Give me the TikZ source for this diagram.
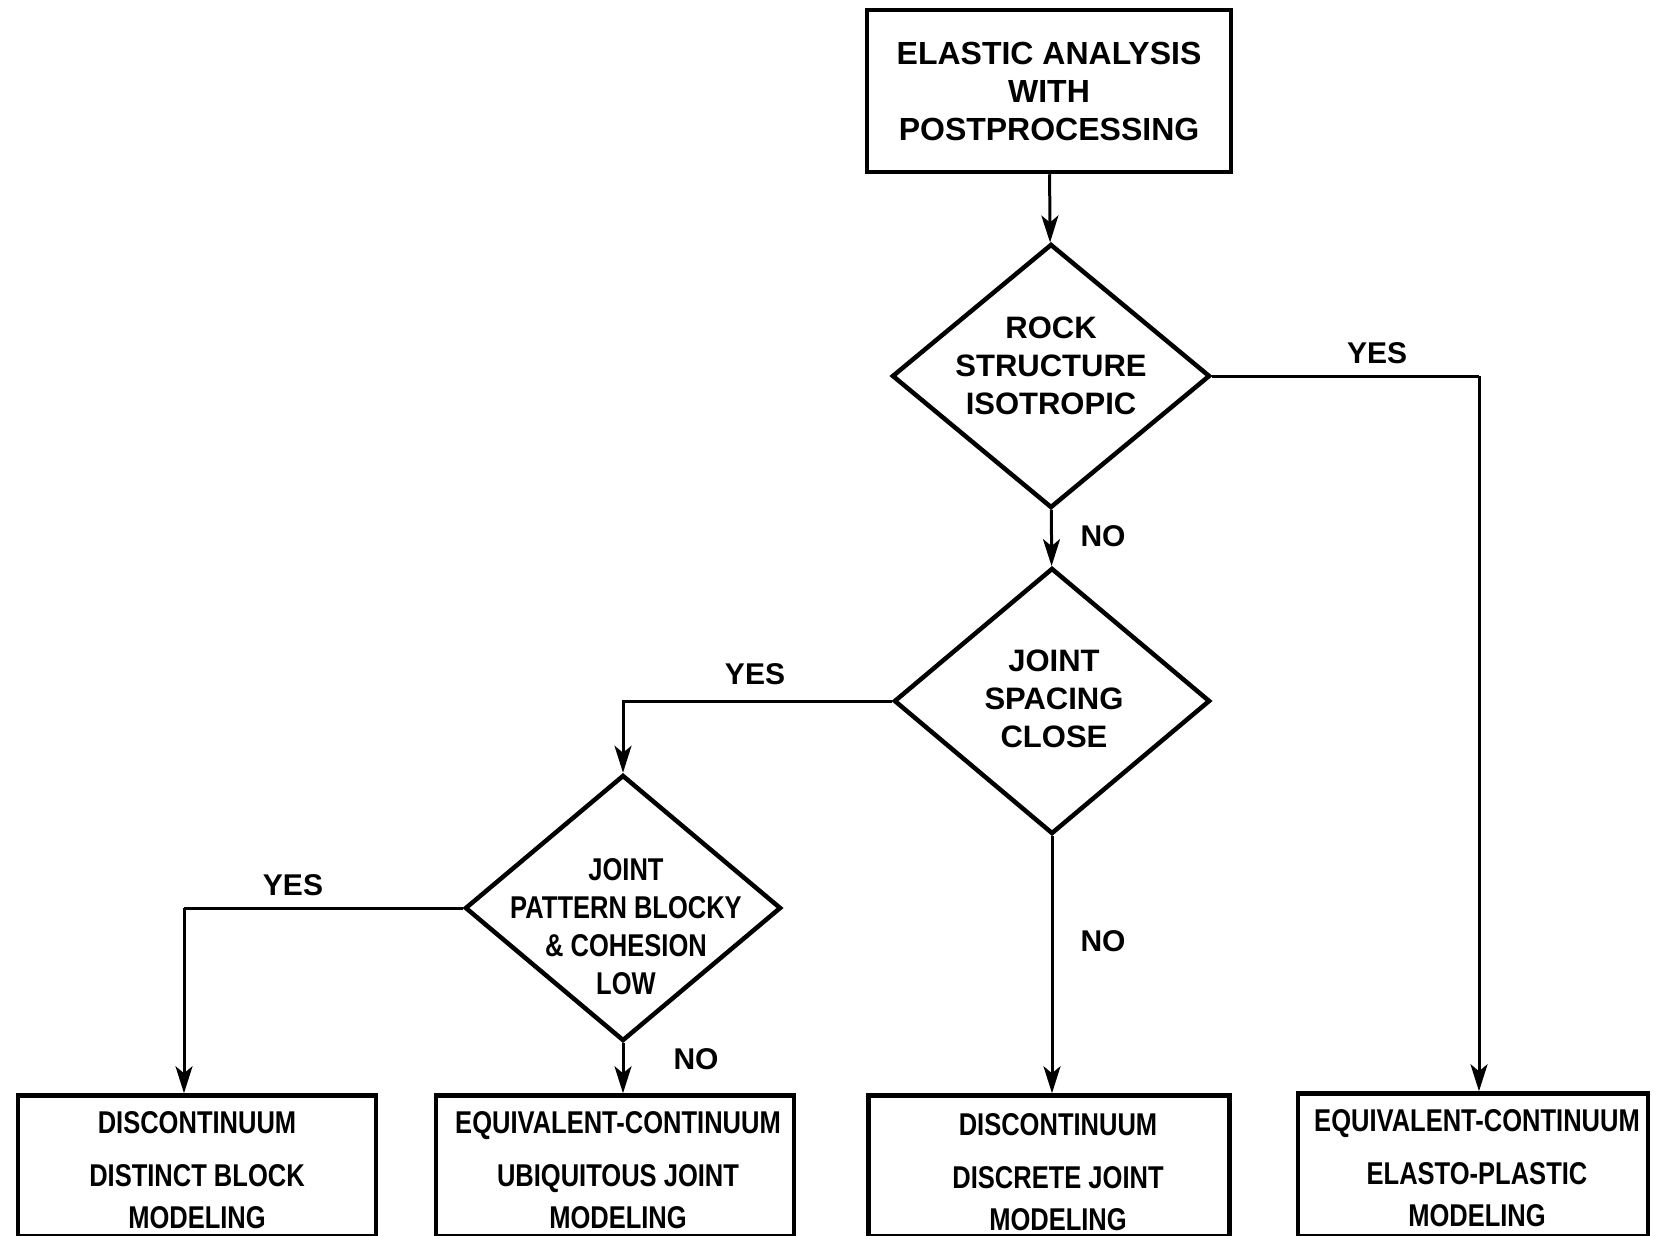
\documentclass[tikz,border=0pt]{standalone}
\usepackage{fontspec}
\setmainfont{Liberation Sans}
\newfontfamily\condfont{Liberation Sans}[FakeStretch=0.81]
\usetikzlibrary{shapes.geometric,arrows.meta}
\begin{document}
\begin{tikzpicture}[x=1pt,y=-1pt,
  txt/.style={font=\fontsize{31}{38}\selectfont\bfseries, align=center, inner sep=0},
  ctxt/.style={font=\fontsize{31.5}{42}\selectfont\condfont\bfseries, align=center, inner sep=0},
  lbl/.style={font=\fontsize{30}{36}\selectfont\bfseries, inner sep=0},
  boxa/.style={draw, line width=4.5pt, rectangle, inner sep=0, minimum height=134pt},
  dia/.style={draw, line width=4.5pt, diamond, inner sep=0},
  arr/.style={line width=3pt, -{Stealth[length=27pt,width=17pt,inset=7pt]}},
  ln/.style={line width=3pt}]
\path[use as bounding box] (0,0) rectangle (1657,1236);

% top box
\node[boxa, minimum width=364pt, minimum height=162pt, txt, font=\fontsize{32}{38}\selectfont\bfseries] (top) at (1049,91)
  {ELASTIC ANALYSIS\\WITH\\POSTPROCESSING};

% diamonds
\node[dia, minimum width=318pt, minimum height=264pt] (d1) at (1051,376) {};
\node[txt] (d1t) at (1051,366) {ROCK\\STRUCTURE\\ISOTROPIC};
\node[dia, minimum width=316pt, minimum height=266pt] (d2) at (1052,701) {};
\node[txt] (d2t) at (1054,699) {JOINT\\SPACING\\CLOSE};
\node[dia, minimum width=316pt, minimum height=266pt] (d3) at (623,908) {};
\node[ctxt, font=\fontsize{31.5}{38}\selectfont\condfont\bfseries] (d3t) at (626,927) {JOINT\\PATTERN BLOCKY\\\& COHESION\\LOW};

% bottom boxes
\node[boxa, minimum width=358pt, minimum height=141pt] (b1) at (197,1166) {};
\node[ctxt] (b1t) at (197,1170) {DISCONTINUUM\\[11pt]DISTINCT BLOCK\\MODELING};
\node[boxa, minimum width=358pt, minimum height=141pt] (b2) at (615,1166) {};
\node[ctxt] (b2t) at (618,1170) {EQUIVALENT-CONTINUUM\\[11pt]UBIQUITOUS JOINT\\MODELING};
\node[boxa, minimum width=361pt, minimum height=141pt] (b3) at (1049,1166) {};
\node[ctxt] (b3t) at (1058,1172) {DISCONTINUUM\\[11pt]DISCRETE JOINT\\MODELING};
\node[boxa, minimum width=350pt, minimum height=143pt] (b4) at (1473,1165) {};
\node[ctxt] (b4t) at (1477,1168) {EQUIVALENT-CONTINUUM\\[11pt]ELASTO-PLASTIC\\MODELING};

% connectors
\coordinate (c1) at (1479,376);
\coordinate (c3) at (184,908);
\draw[arr] (top) -- (d1);
\draw[arr] (d1) -- (d2);
\draw[ln] (d1.east) -- (c1);
\draw[arr] (c1) -- (c1 |- b4.north);
\draw[arr] (d2.west) -| (d3.north);
\draw[arr] (d2.south) -- (d2.south |- b3.north);
\draw[ln] (d3.west) -- (c3);
\draw[arr] (c3) -- (c3 |- b1.north);
\draw[arr] (d3.south) -- (d3.south |- b2.north);

% labels
\node[lbl] (l1) at (1377,353) {YES};
\node[lbl] (l2) at (1103,536) {NO};
\node[lbl] (l3) at (755,674) {YES};
\node[lbl] (l4) at (293,885) {YES};
\node[lbl] (l5) at (1103,941) {NO};
\node[lbl] (l6) at (696,1059) {NO};
\end{tikzpicture}
\end{document}
